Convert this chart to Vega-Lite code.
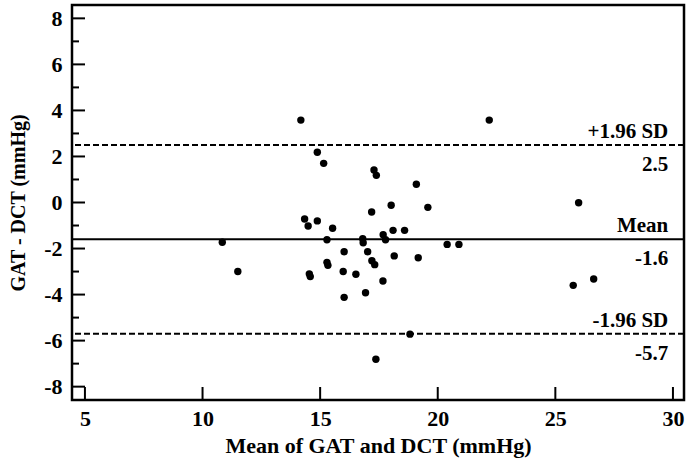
{
  "$schema": "https://vega.github.io/schema/vega-lite/v6.json",
  "width": 612,
  "height": 395,
  "autosize": {"type": "none"},
  "padding": {"left": 72, "top": 5, "right": 5, "bottom": 69},
  "background": "white",
  "config": {
    "view": {"stroke": "black", "strokeWidth": 2.5},
    "font": "Liberation Serif",
    "axis": {
      "grid": false,
      "domain": false,
      "ticks": false,
      "labelFont": "Liberation Serif",
      "labelFontWeight": "bold",
      "labelFontSize": 22,
      "labelColor": "black",
      "titleFont": "Liberation Serif",
      "titleFontWeight": "bold",
      "titleFontSize": 22,
      "titleColor": "black"
    }
  },
  "datasets": {
    "points": [
      {"mean": 14.18, "diff": 3.58},
      {"mean": 14.88, "diff": 2.18},
      {"mean": 15.15, "diff": 1.70},
      {"mean": 17.29, "diff": 1.41},
      {"mean": 17.39, "diff": 1.18},
      {"mean": 19.09, "diff": 0.79},
      {"mean": 18.02, "diff": -0.12},
      {"mean": 19.58, "diff": -0.21},
      {"mean": 17.19, "diff": -0.41},
      {"mean": 14.34, "diff": -0.72},
      {"mean": 14.49, "diff": -1.02},
      {"mean": 14.88, "diff": -0.80},
      {"mean": 15.53, "diff": -1.12},
      {"mean": 18.10, "diff": -1.21},
      {"mean": 18.59, "diff": -1.21},
      {"mean": 17.68, "diff": -1.40},
      {"mean": 17.78, "diff": -1.62},
      {"mean": 16.81, "diff": -1.57},
      {"mean": 16.83, "diff": -1.75},
      {"mean": 15.29, "diff": -1.62},
      {"mean": 10.84, "diff": -1.73},
      {"mean": 20.40, "diff": -1.82},
      {"mean": 20.90, "diff": -1.82},
      {"mean": 16.02, "diff": -2.14},
      {"mean": 17.02, "diff": -2.14},
      {"mean": 15.29, "diff": -2.60},
      {"mean": 15.33, "diff": -2.73},
      {"mean": 17.20, "diff": -2.53},
      {"mean": 17.32, "diff": -2.70},
      {"mean": 18.15, "diff": -2.32},
      {"mean": 19.17, "diff": -2.40},
      {"mean": 11.50, "diff": -3.00},
      {"mean": 14.54, "diff": -3.10},
      {"mean": 14.58, "diff": -3.22},
      {"mean": 15.98, "diff": -3.00},
      {"mean": 16.52, "diff": -3.12},
      {"mean": 17.67, "diff": -3.41},
      {"mean": 16.02, "diff": -4.12},
      {"mean": 16.93, "diff": -3.92},
      {"mean": 18.82, "diff": -5.72},
      {"mean": 17.37, "diff": -6.81},
      {"mean": 22.19, "diff": 3.58},
      {"mean": 25.99, "diff": -0.01},
      {"mean": 25.76, "diff": -3.60},
      {"mean": 26.63, "diff": -3.32}
    ],
    "lines": [
      {"name": "+1.96 SD", "value": 2.5, "valueText": "2.5", "kind": "limit"},
      {"name": "Mean", "value": -1.6, "valueText": "-1.6", "kind": "mean"},
      {"name": "-1.96 SD", "value": -5.7, "valueText": "-5.7", "kind": "limit"}
    ],
    "yMajor": [
      {"v": -8}, {"v": -6}, {"v": -4}, {"v": -2}, {"v": 0}, {"v": 2}, {"v": 4}, {"v": 6}, {"v": 8}
    ],
    "yMinor": [
      {"v": -7}, {"v": -5}, {"v": -3}, {"v": -1}, {"v": 1}, {"v": 3}, {"v": 5}, {"v": 7}
    ],
    "xTicks": [
      {"v": 5}, {"v": 10}, {"v": 15}, {"v": 20}, {"v": 25}, {"v": 30}
    ]
  },
  "layer": [
    {
      "data": {"name": "points"},
      "mark": {"type": "circle", "color": "black", "opacity": 1, "size": 55},
      "encoding": {
        "x": {
          "field": "mean",
          "type": "quantitative",
          "scale": {"domain": [4.45, 30.47], "nice": false, "zero": false},
          "axis": {
            "title": "Mean of GAT and DCT (mmHg)",
            "values": [5, 10, 15, 20, 25, 30],
            "labelPadding": 8,
            "titlePadding": 6,
            "labelExpr": "'' + datum.value"
          }
        },
        "y": {
          "field": "diff",
          "type": "quantitative",
          "scale": {"domain": [-8.58, 8.58], "nice": false, "zero": false},
          "axis": {
            "title": "GAT - DCT (mmHg)",
            "titleFontSize": 20,
            "values": [-8, -6, -4, -2, 0, 2, 4, 6, 8],
            "labelPadding": 10,
            "titlePadding": 15,
            "labelExpr": "'' + datum.value"
          }
        }
      }
    },
    {
      "data": {"name": "yMajor"},
      "mark": {"type": "tick", "orient": "horizontal", "color": "black", "thickness": 2, "opacity": 1, "size": 13},
      "encoding": {
        "x": {"datum": 4.726},
        "y": {"field": "v", "type": "quantitative"}
      }
    },
    {
      "data": {"name": "yMinor"},
      "mark": {"type": "tick", "orient": "horizontal", "color": "black", "thickness": 2, "opacity": 1, "size": 7},
      "encoding": {
        "x": {"datum": 4.599},
        "y": {"field": "v", "type": "quantitative"}
      }
    },
    {
      "data": {"name": "xTicks"},
      "mark": {"type": "tick", "orient": "vertical", "color": "black", "thickness": 2, "opacity": 1, "size": 13},
      "encoding": {
        "x": {"field": "v", "type": "quantitative"},
        "y": {"datum": -8.298}
      }
    },
    {
      "data": {"name": "lines"},
      "mark": {"type": "rule", "color": "black", "strokeWidth": 2},
      "encoding": {
        "y": {"field": "value", "type": "quantitative"},
        "strokeDash": {
          "field": "kind",
          "type": "nominal",
          "scale": {"domain": ["limit", "mean"], "range": [[6, 3], [1, 0]]},
          "legend": null
        }
      }
    },
    {
      "data": {"name": "lines"},
      "mark": {"type": "text", "align": "right", "baseline": "alphabetic", "dy": -7, "fontSize": 21, "fontWeight": "bold", "font": "Liberation Serif", "color": "black"},
      "encoding": {
        "x": {"datum": 29.8},
        "y": {"field": "value", "type": "quantitative"},
        "text": {"field": "name"}
      }
    },
    {
      "data": {"name": "lines"},
      "mark": {"type": "text", "align": "right", "baseline": "alphabetic", "dy": 26, "fontSize": 21, "fontWeight": "bold", "font": "Liberation Serif", "color": "black"},
      "encoding": {
        "x": {"datum": 29.8},
        "y": {"field": "value", "type": "quantitative"},
        "text": {"field": "valueText"}
      }
    }
  ]
}
